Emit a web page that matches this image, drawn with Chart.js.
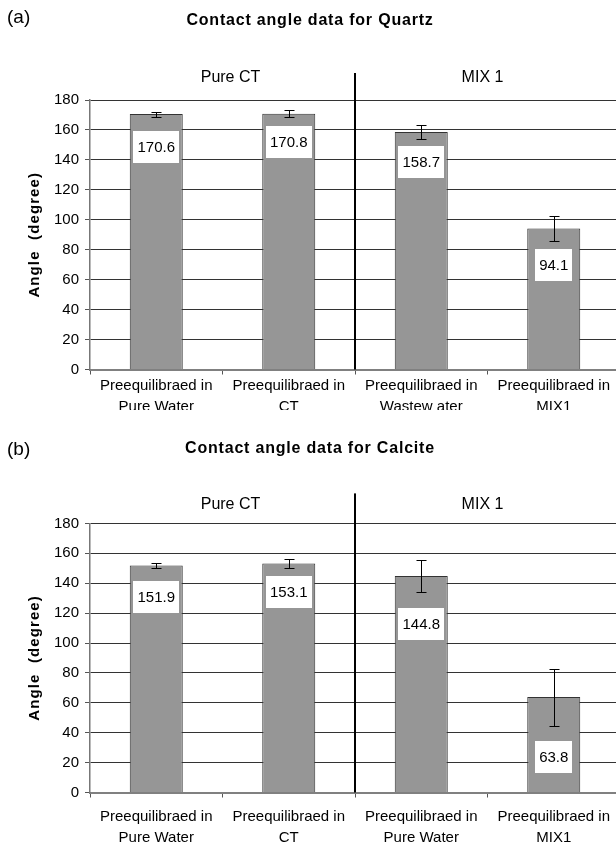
<!DOCTYPE html>
<html>
<head>
<meta charset="utf-8">
<script src="https://cdn.jsdelivr.net/npm/chart.js@4.4.0/dist/chart.umd.min.js"></script>
<style>
  html, body { margin: 0; padding: 0; background: #fff; overflow: hidden; width: 616px; height: 846px; }
  .box { position: absolute; left: 0; width: 632px; overflow: hidden; }
  #boxA { top: 0; height: 410px; }
  #boxB { top: 410px; height: 436px; }
</style>
</head>
<body>
<div class="box" id="boxA"><canvas id="chartA" width="632" height="430"></canvas></div>
<div class="box" id="boxB"><canvas id="chartB" width="632" height="436"></canvas></div>
<script>
// ---- data ----
const categoriesQuartz = [
  ['Preequilibraed in', 'Pure Water'],
  ['Preequilibraed in', 'CT'],
  ['Preequilibraed in', 'Wastew ater'],
  ['Preequilibraed in', 'MIX1']
];
const categoriesCalcite = [
  ['Preequilibraed in', 'Pure Water'],
  ['Preequilibraed in', 'CT'],
  ['Preequilibraed in', 'Pure Water'],
  ['Preequilibraed in', 'MIX1']
];
const quartzValues = [170.6, 170.8, 158.7, 94.1];
const quartzErrors = [1.7, 2.4, 4.5, 8.3];
const quartzLabelAt = [148.8, 152.0, 138.7, 69.7];
const calciteValues = [151.9, 153.1, 144.8, 63.8];
const calciteErrors = [1.9, 3.0, 11.0, 19.0];
const calciteLabelAt = [130.8, 134.0, 112.5, 24.0];
const groupLabels = ['Pure CT', 'MIX 1'];
const yMin = 0, yMax = 180, yStep = 20;
const titleQuartz = 'Contact angle data for Quartz';
const titleCalcite = 'Contact angle data for Calcite';
const yTitle = 'Angle  (degree)';

const FONT = '"Liberation Sans", Arial, sans-serif';

const decorPlugin = {
  id: 'decor',
  afterDatasetsDraw(chart, args, opts) {
    const ctx = chart.ctx;
    const ys = chart.scales.y;
    const meta = chart.getDatasetMeta(0);
    const ds = chart.data.datasets[0];
    ctx.save();
    // error bars
    ctx.strokeStyle = '#000';
    ctx.lineWidth = 1;
    ds.data.forEach((v, i) => {
      const x = Math.round(meta.data[i].x) + 0.5;
      const e = opts.errors[i];
      const yt = Math.round(ys.getPixelForValue(v + e)) + 0.5;
      const yb = Math.round(ys.getPixelForValue(v - e)) + 0.5;
      ctx.beginPath();
      ctx.moveTo(x, yt); ctx.lineTo(x, yb);
      ctx.moveTo(x - 5, yt); ctx.lineTo(x + 5, yt);
      ctx.moveTo(x - 5, yb); ctx.lineTo(x + 5, yb);
      ctx.stroke();
    });
    // value labels in white boxes
    ctx.font = '15px ' + FONT;
    ctx.textAlign = 'center';
    ctx.textBaseline = 'middle';
    ds.data.forEach((v, i) => {
      const x = meta.data[i].x;
      const y = ys.getPixelForValue(opts.labelAt[i]);
      const txt = v.toFixed(1);
      const w = ctx.measureText(txt).width + 8;
      const h = 32;
      ctx.fillStyle = '#fff';
      ctx.fillRect(Math.round(x - w / 2), Math.round(y - h / 2), Math.round(w), h);
      ctx.fillStyle = '#000';
      ctx.fillText(txt, x, y + 1);
    });
    ctx.restore();
  },
  afterDraw(chart, args, opts) {
    const ctx = chart.ctx;
    const xs = chart.scales.x;
    const area = chart.chartArea;
    ctx.save();
    // separator line between groups
    const sx = Math.round(xs.getPixelForValue(1.5)) - 1;
    ctx.fillStyle = '#000';
    ctx.fillRect(sx, area.top - opts.sepAbove, 2, area.bottom - area.top + opts.sepAbove);
    // group labels
    ctx.font = '16px ' + FONT;
    ctx.textAlign = 'center';
    ctx.textBaseline = 'middle';
    ctx.fillText(groupLabels[0], xs.getPixelForValue(0.5) + 8, area.top - opts.groupAbove);
    ctx.fillText(groupLabels[1], xs.getPixelForValue(2.5) - 5, area.top - opts.groupAbove);
    // panel tag
    ctx.textAlign = 'left';
    ctx.font = '19px ' + FONT;
    ctx.fillText(opts.tag, 7, opts.tagY);
    // title
    ctx.font = 'bold 16px ' + FONT;
    ctx.letterSpacing = '0.8px';
    ctx.textAlign = 'center';
    ctx.fillText(opts.title, 310, opts.titleY);
    // y-axis title
    ctx.font = 'bold 15px ' + FONT;
    ctx.letterSpacing = '1.1px';
    ctx.translate(34.5, (area.top + area.bottom) / 2);
    ctx.rotate(-Math.PI / 2);
    ctx.fillText(yTitle, 0, 0);
    ctx.restore();
  }
};

function makeChart(id, cats, values, errors, labelAt, o) {
  return new Chart(document.getElementById(id), {
    type: 'bar',
    data: {
      labels: cats,
      datasets: [{
        data: values,
        backgroundColor: '#969696',
        borderColor: '#333',
        borderWidth: 1,
        borderSkipped: 'bottom',
        categoryPercentage: 1.0,
        barPercentage: 0.4
      }]
    },
    options: {
      responsive: false,
      animation: false,
      events: [],
      layout: { padding: { left: 0, right: 12, top: o.top, bottom: 0 } },
      plugins: {
        legend: { display: false },
        tooltip: { enabled: false },
        decor: { errors: errors, labelAt: labelAt, tag: o.tag, tagY: o.tagY, title: o.title, titleY: o.titleY, sepAbove: o.sepAbove, groupAbove: o.groupAbove }
      },
      scales: {
        x: {
          afterFit(s) { s.height = o.xHeight; },
          grid: { display: true, drawOnChartArea: false, offset: true, tickLength: 5, color: '#555', lineWidth: 1 },
          border: { display: true, color: '#808080', width: 2 },
          ticks: { color: '#000', font: { family: FONT, size: 15, lineHeight: 1.45 }, padding: o.tickPad, maxRotation: 0, autoSkip: false }
        },
        y: {
          min: yMin, max: yMax,
          afterFit(s) { s.width = 90; },
          grid: { color: '#333', lineWidth: 1, tickLength: 5, tickColor: '#555' },
          border: { display: true, color: '#777', width: 1.5 },
          ticks: { stepSize: yStep, color: '#000', font: { family: FONT, size: 15 }, padding: 6 }
        }
      }
    },
    plugins: [decorPlugin]
  });
}

makeChart('chartA', categoriesQuartz, quartzValues, quartzErrors, quartzLabelAt,
  { top: 100, xHeight: 60.5, tickPad: 0, tag: '(a)', tagY: 18, title: titleQuartz, titleY: 21, sepAbove: 27, groupAbove: 22 });
makeChart('chartB', categoriesCalcite, calciteValues, calciteErrors, calciteLabelAt,
  { top: 113.4, xHeight: 53.5, tickPad: 8, tag: '(b)', tagY: 40, title: titleCalcite, titleY: 39, sepAbove: 30, groupAbove: 19 });
</script>
</body>
</html>
